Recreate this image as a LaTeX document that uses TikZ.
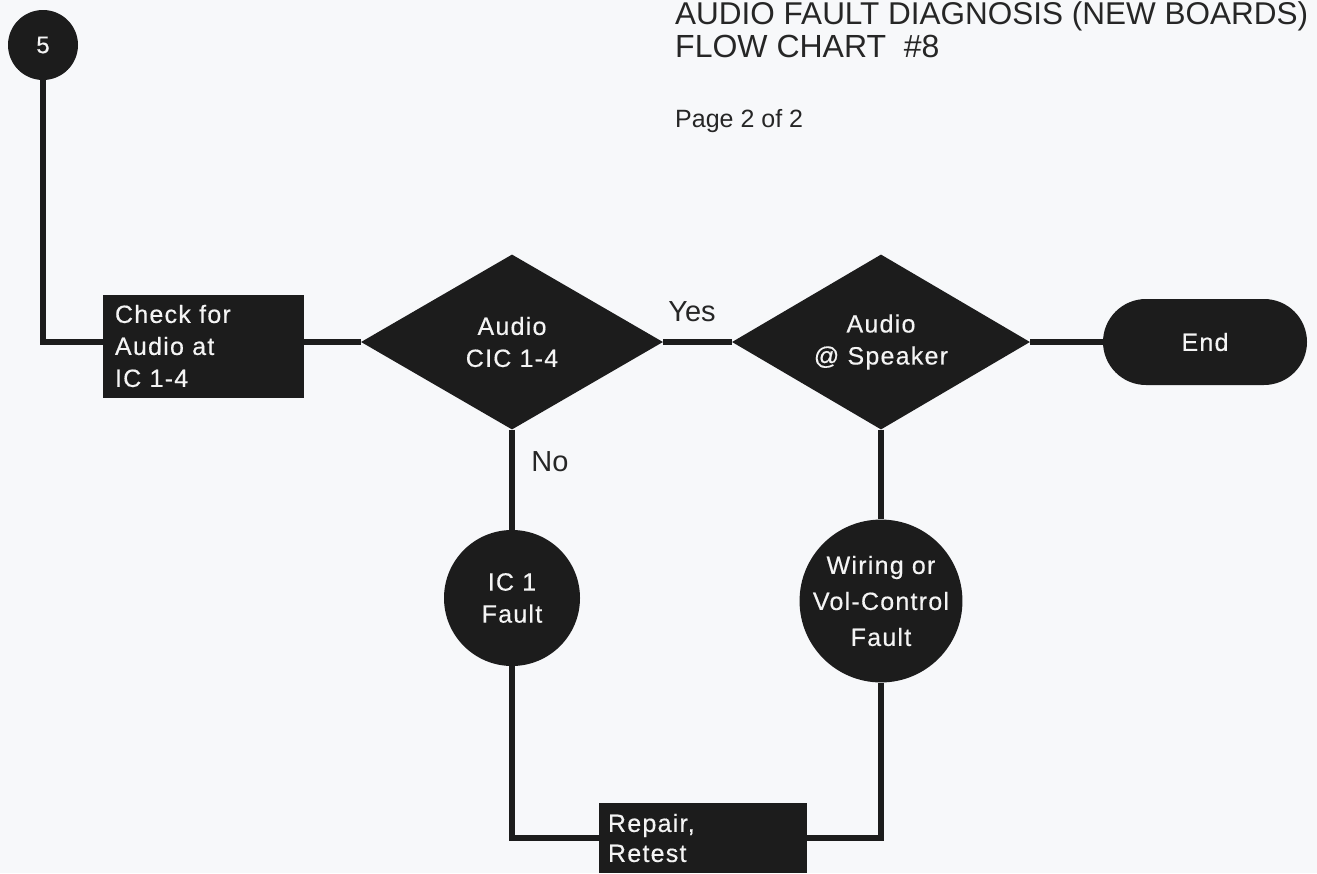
\documentclass[tikz,border=0pt]{standalone}
\usepackage{fontspec}
\setmainfont{Liberation Sans}
\newfontfamily\chartfont[LetterSpace=5,FakeBold=0.4]{Liberation Sans}
\usetikzlibrary{shapes.geometric,shapes.misc}
\definecolor{ink}{HTML}{1C1C1C}
\definecolor{paper}{HTML}{F7F8FA}
\definecolor{print}{HTML}{262626}
\definecolor{knock}{HTML}{F4F4F4}
\begin{document}
\begin{tikzpicture}[x=1pt,y=-1pt,
  flow/.style={line width=6pt,draw=ink},
  blk/.style={fill=ink,draw=none,text=knock,inner sep=0pt,
    font=\chartfont\fontsize{25}{32}\selectfont},
  boxnode/.style={blk,rectangle,align=left},
  decision/.style={blk,diamond,align=center,shape aspect=1.7},
  fault/.style={blk,circle,align=center},
  plain/.style={text=print,inner sep=0pt}]
  % page
  \fill[paper] (0,0) rectangle (1317,873);
  \useasboundingbox (0,0) rectangle (1317,873);

  % heading
  \node[plain,anchor=base west,font=\fontsize{31.5}{36}\selectfont] (title1) at (675,24) {AUDIO FAULT DIAGNOSIS (NEW BOARDS)};
  \node[plain,anchor=base west,font=\fontsize{32}{36}\selectfont] (title2) at (675,57) {FLOW CHART\hspace{0.55em}\#8};
  \node[plain,anchor=base west,font=\fontsize{25}{30}\selectfont] (page) at (675,127) {Page 2 of 2};

  % shapes
  \node[fault,minimum size=70pt,font=\chartfont\fontsize{24}{26}\selectfont] (five) at (43,45) {5};
  \node[boxnode,minimum width=201pt,minimum height=103pt,text width=177pt] (check) at (203.5,346) {Check for\\Audio at\\IC 1-4};
  \node[decision,minimum width=302pt,minimum height=175pt] (d1) at (512,342) {Audio\\CIC 1-4};
  \node[decision,minimum width=298pt,minimum height=175pt] (d2) at (881,342) {Audio\\@ Speaker};
  \node[blk,rounded rectangle,minimum width=204pt,minimum height=86pt] (endn) at (1205,342) {End};
  \node[fault,minimum size=136pt] (ic1) at (512,598) {IC 1\\Fault};
  \node[fault,minimum size=142pt,font=\chartfont\fontsize{25}{36}\selectfont] (wir) at (881,601) {Wiring or\\Vol-Control\\Fault};
  \node[boxnode,minimum width=208pt,minimum height=70pt,text width=190pt,font=\chartfont\fontsize{25}{30}\selectfont] (rep) at (703,838) {Repair,\\Retest};

  % branch labels
  \node[plain,font=\fontsize{29}{32}\selectfont] (yes) at (692,312) {Yes};
  \node[plain,font=\fontsize{29}{32}\selectfont] (no) at (550,462) {No};

  % connectors
  \draw[flow] (five.south) |- (check.west |- d1);
  \draw[flow] (check.east |- d1) -- (d1.west);
  \draw[flow] (d1.east) -- (d2.west);
  \draw[flow] (d2.east) -- (endn.west);
  \draw[flow] (d1.south) -- (ic1.north);
  \draw[flow] (d2.south) -- (wir.north);
  \draw[flow] (ic1.south) |- (rep.west);
  \draw[flow] (wir.south) |- (rep.east);
\end{tikzpicture}
\end{document}
